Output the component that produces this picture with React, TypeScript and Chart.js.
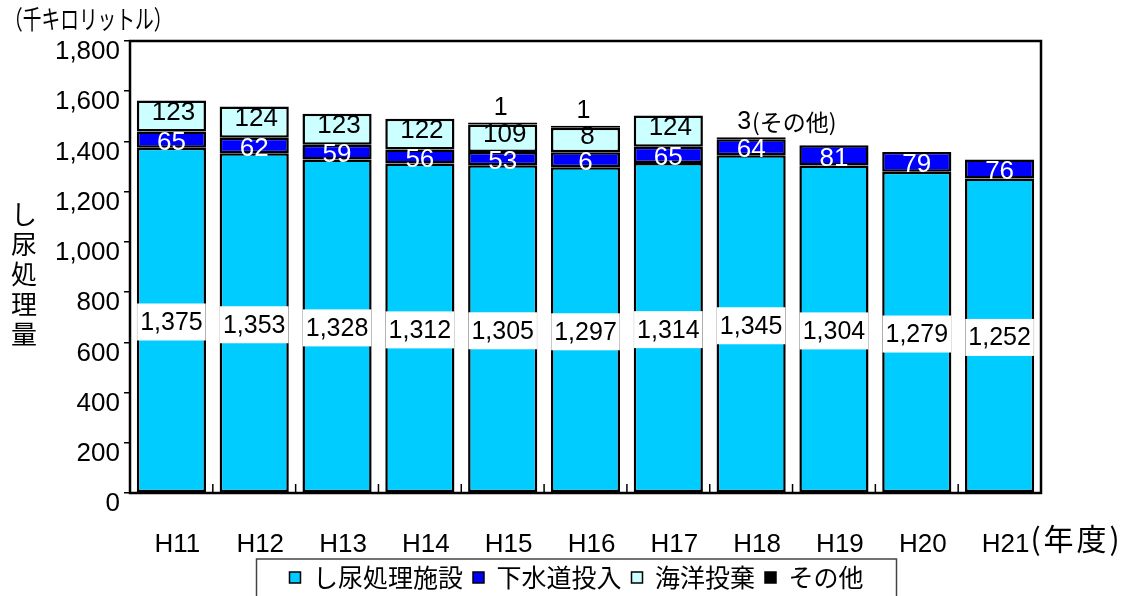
import React, { useEffect, useRef } from 'react';
import { Chart, registerables } from 'chart.js';

Chart.register(...registerables);

// ---- data ----
const categories = ['H11', 'H12', 'H13', 'H14', 'H15', 'H16', 'H17', 'H18', 'H19', 'H20', 'H21'];
const seriesNames = ['し尿処理施設', '下水道投入', '海洋投棄', 'その他'];
const shinyoValues = [1375, 1353, 1328, 1312, 1305, 1297, 1314, 1345, 1304, 1279, 1252];
const gesuidoValues = [65, 62, 59, 56, 53, 60, 65, 64, 81, 79, 76];
const kaiyoValues = [123, 124, 123, 122, 109, 98, 124, null, null, null, null];
const sonotaValues = [null, null, null, null, 1, 1, null, 3, null, null, null];
const gesuidoLabels = ['65', '62', '59', '56', '53', '6', '65', '64', '81', '79', '76'];
const kaiyoLabels = ['123', '124', '123', '122', '109', '8', '124', '', '', '', ''];
const sonotaLabels = ['', '', '', '', '1', '1', '', '3(その他)', '', '', ''];
const yMin = 0;
const yMax = 1800;
const yStep = 200;
const unitTitle = '（千キロリットル）';
const yTitle = 'し尿処理量';
const xUnit = '(年度)';

const colors = ['#00CCFF', '#0000FF', '#CCFFFF', '#000000'];
const NUM_FONT = '"Liberation Sans", Arial, sans-serif';
const JP_FONT = '"Noto Sans CJK JP", "Noto Sans", sans-serif';

const decorPlugin = {
  id: 'decor',
  afterLayout(chart: any) {
    const lg = chart.legend;
    if (lg) {
      // centre the legend under the plot like the reference
      const shift = 576.5 - (lg.left + lg.right) / 2;
      lg.left += shift;
      lg.right += shift;
    }
  },
  afterDatasetsDraw(chart: any) {
    const ctx = chart.ctx;
    const ca = chart.chartArea;
    const xs = chart.scales.x;
    ctx.save();
    // plot frame
    ctx.strokeStyle = '#000';
    ctx.lineWidth = 2.5;
    ctx.strokeRect(ca.left, ca.top, ca.right - ca.left, ca.bottom - ca.top);
    // inward category separators on the x axis
    ctx.lineWidth = 1.5;
    for (let i = 1; i < categories.length; i++) {
      const x = (xs.getPixelForValue(i - 1) + xs.getPixelForValue(i)) / 2;
      ctx.beginPath();
      ctx.moveTo(x, ca.bottom);
      ctx.lineTo(x, ca.bottom - 9);
      ctx.stroke();
    }

    ctx.textAlign = 'center';
    ctx.textBaseline = 'middle';
    // し尿処理施設 labels with white box
    const m0 = chart.getDatasetMeta(0);
    ctx.font = `25px ${NUM_FONT}`;
    m0.data.forEach((bar: any, j: number) => {
      const v = shinyoValues[j];
      if (v == null) return;
      const t = v.toLocaleString('en-US');
      const cy = (bar.y + bar.base) / 2 + 2;
      const w = ctx.measureText(t).width;
      ctx.fillStyle = '#fff';
      ctx.fillRect(bar.x - w / 2 - 3, cy - 18.5, w + 6, 37);
      ctx.fillStyle = '#000';
      ctx.fillText(t, bar.x, cy + 1);
    });
    // 下水道投入 labels
    const m1 = chart.getDatasetMeta(1);
    ctx.fillStyle = '#fff';
    ctx.font = `26px ${NUM_FONT}`;
    m1.data.forEach((bar: any, j: number) => {
      const t = gesuidoLabels[j];
      if (!t) return;
      ctx.fillText(t, bar.x, (bar.y + bar.base) / 2 + 3);
    });
    // 海洋投棄 labels
    const m2 = chart.getDatasetMeta(2);
    ctx.fillStyle = '#000';
    m2.data.forEach((bar: any, j: number) => {
      const t = kaiyoLabels[j];
      if (!t || kaiyoValues[j] == null) return;
      ctx.fillText(t, bar.x + 2, (bar.y + bar.base) / 2 - 3);
    });
    // その他 labels above bars
    const m3 = chart.getDatasetMeta(3);
    m3.data.forEach((bar: any, j: number) => {
      const t = sonotaLabels[j];
      if (!t || sonotaValues[j] == null) return;
      const y = bar.y - 15;
      const match = t.match(/^(\d+)(.*)$/);
      const num = match ? match[1] : t;
      const rest = match ? match[2] : '';
      if (!rest) {
        ctx.textAlign = 'center';
        ctx.font = `25px ${NUM_FONT}`;
        ctx.fillText(num, bar.x - 2, y);
      } else {
        ctx.textAlign = 'left';
        ctx.font = `25px ${NUM_FONT}`;
        const x0 = bar.x - 14;
        ctx.fillText(num, x0, y);
        const nw = ctx.measureText(num).width;
        ctx.font = `23px ${JP_FONT}`;
        ctx.fillText(rest, x0 + nw + 1, y);
      }
    });
    ctx.restore();
  },
  afterDraw(chart: any) {
    const ctx = chart.ctx;
    const xs = chart.scales.x;
    ctx.save();
    ctx.fillStyle = '#000';
    ctx.textBaseline = 'middle';
    // unit title (slightly condensed)
    ctx.save();
    ctx.textAlign = 'left';
    ctx.font = `26px ${JP_FONT}`;
    ctx.translate(4, 19);
    ctx.scale(0.72, 1);
    ctx.fillText(unitTitle, 0, 0);
    ctx.restore();
    // vertical y title
    ctx.textAlign = 'center';
    ctx.font = `26px ${JP_FONT}`;
    Array.from(yTitle).forEach((ch, i) => {
      ctx.fillText(ch, 24, 214 + i * 30);
    });
    // (年度) after last category label
    ctx.font = `26px ${NUM_FONT}`;
    const last = categories.length - 1;
    const lw = ctx.measureText(categories[last]).width;
    const xStart = xs.getPixelForValue(last) + 6 + lw / 2 + 1;
    ctx.textAlign = 'left';
    ctx.font = `30px ${JP_FONT}`;
    (ctx as any).letterSpacing = '3px';
    ctx.fillText(xUnit, xStart, 539);
    (ctx as any).letterSpacing = '0px';
    // legend frame
    const lg = chart.legend;
    if (lg) {
      const cx = (lg.left + lg.right) / 2;
      ctx.strokeStyle = '#444';
      ctx.lineWidth = 1.5;
      ctx.strokeRect(cx - 320, lg.top + 4, 640, 60);
    }
    ctx.restore();
  },
};

export default function App() {
  const ref = useRef<HTMLCanvasElement | null>(null);

  useEffect(() => {
    if (!ref.current) return;
    const base = { borderColor: '#000', borderWidth: 2.5, borderSkipped: false, barPercentage: 0.835, categoryPercentage: 1 };
    const chart = new Chart(ref.current, {
      type: 'bar',
      data: {
        labels: categories,
        datasets: [
          { ...base, label: seriesNames[0], data: shinyoValues, backgroundColor: colors[0] },
          { ...base, label: seriesNames[1], data: gesuidoValues, backgroundColor: colors[1] },
          { ...base, label: seriesNames[2], data: kaiyoValues, backgroundColor: colors[2] },
          { ...base, label: seriesNames[3], data: sonotaValues, backgroundColor: colors[3], minBarLength: 2 },
        ] as any,
      },
      options: {
        animation: false,
        responsive: false,
        maintainAspectRatio: false,
        layout: { padding: { left: 0, right: 84, top: 41, bottom: -4 } },
        plugins: {
          tooltip: { enabled: false },
          legend: {
            position: 'bottom',
            labels: {
              color: '#000',
              font: { family: JP_FONT, size: 25 },
              boxWidth: 11,
              boxHeight: 11,
              padding: 10,
              generateLabels: (c: any) =>
                (Chart.defaults.plugins.legend.labels.generateLabels as any)(c).map((l: any) => ({
                  ...l,
                  lineWidth: 1.5,
                  strokeStyle: '#000',
                })),
            },
          },
        },
        scales: {
          x: {
            stacked: true,
            grid: { display: false },
            border: { display: false },
            ticks: {
              color: '#000',
              font: { family: NUM_FONT, size: 26 },
              padding: 28,
              labelOffset: 6,
              maxRotation: 0,
              autoSkip: false,
            },
            afterFit: (s: any) => {
              s.height = 62;
            },
          },
          y: {
            stacked: true,
            min: yMin,
            max: yMax,
            border: { display: false },
            grid: { drawOnChartArea: false, drawTicks: true, tickLength: 6, color: '#000', lineWidth: 1.5 },
            ticks: {
              stepSize: yStep,
              color: '#000',
              padding: 4,
              font: { family: NUM_FONT, size: 26, lineHeight: 0.85 },
              callback: (v: any) => ['', Number(v).toLocaleString('en-US')],
            },
            afterFit: (s: any) => {
              s.width = 130;
            },
          },
        },
      } as any,
      plugins: [decorPlugin],
    });
    return () => chart.destroy();
  }, []);

  return (
    <div style={{ position: 'absolute', left: 0, top: 0, width: 1125, height: 596, background: '#fff' }}>
      <canvas ref={ref} width={1125} height={596} />
    </div>
  );
}
